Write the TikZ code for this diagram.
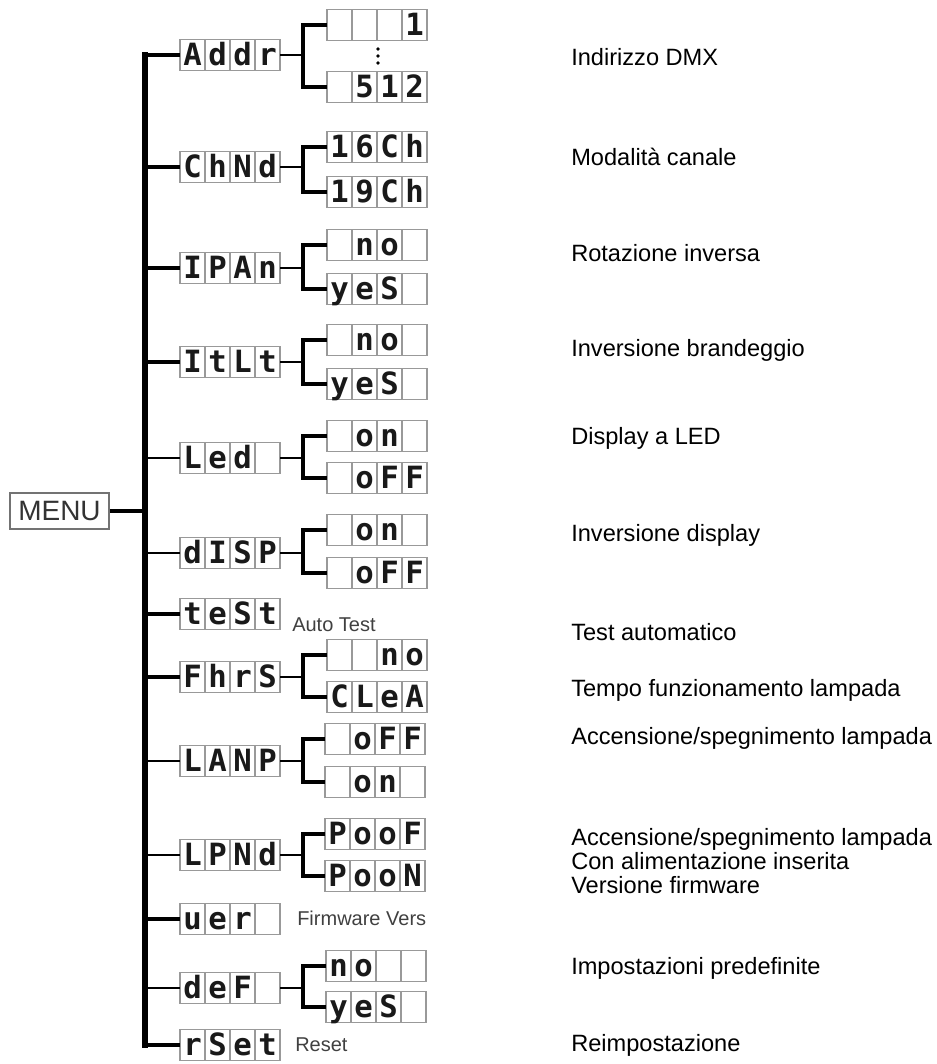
\documentclass[tikz,border=0pt]{standalone}
\usepackage{fontspec}
\setmainfont{Liberation Sans}
\newfontfamily\segfont{DejaVu Sans Mono}
\newcommand\dispbox[7]{%
  \node[dbox] (#1) at (#2,#3) {};
  \foreach \k in {1,2,3}{\draw[cell] (#2+25*\k,#3-15.5) -- (#2+25*\k,#3+15.5);}
  \node[dchar] (#1c1) at (#2+12.5,#3+10.5) {#4};
  \node[dchar] (#1c2) at (#2+37.5,#3+10.5) {#5};
  \node[dchar] (#1c3) at (#2+62.5,#3+10.5) {#6};
  \node[dchar] (#1c4) at (#2+87.5,#3+10.5) {#7};
}
\begin{document}
\begin{tikzpicture}[x=0.75pt,y=-0.75pt,
 dbox/.style={draw=black!40,line width=1pt,minimum width=75pt,minimum height=23.25pt,inner sep=0pt,outer sep=0pt,anchor=west},
 cell/.style={draw=black!40,line width=1pt},
 dchar/.style={font=\segfont\bfseries\fontsize{23}{23}\selectfont,text=black!90,inner sep=0pt,anchor=base},
 trunk/.style={line width=3.8pt,line cap=rect},
 br/.style={line width=2.4pt},
 thinbr/.style={line width=1.5pt},
 lbl/.style={font=\fontsize{17.7}{21}\selectfont,anchor=base west,inner sep=0pt},
 sub/.style={font=\fontsize{15}{18}\selectfont,text=black!75,anchor=base west,inner sep=0pt}]
\useasboundingbox (0,0) rectangle (937,1064);

% MENU
\node[draw=black!55,line width=1.2pt,minimum width=74.25pt,minimum height=27pt,inner sep=0pt,
      font=\fontsize{21}{21}\selectfont,text=black!80] (menu) at (59.5,511) {MENU};

\coordinate (tx) at (145,0);
\coordinate (bx) at (303,0);

% level 1
\dispbox{addr}{180}{55}{A}{d}{d}{r}
\dispbox{chnd}{180}{167}{C}{h}{N}{d}
\dispbox{ipan}{180}{268}{I}{P}{A}{n}
\dispbox{itlt}{180}{362}{I}{t}{L}{t}
\dispbox{led}{180}{458}{L}{e}{d}{}
\dispbox{disp}{180}{553}{d}{I}{S}{P}
\dispbox{test}{180}{614}{t}{e}{S}{t}
\dispbox{fhrs}{180}{677}{F}{h}{r}{S}
\dispbox{lanp}{180}{761}{L}{A}{N}{P}
\dispbox{lpnd}{180}{855}{L}{P}{N}{d}
\dispbox{uer}{180}{919}{u}{e}{r}{}
\dispbox{def}{180}{988}{d}{e}{F}{}
\dispbox{rset}{180}{1045}{r}{S}{e}{t}

% level 2
\dispbox{addra}{327}{25}{}{}{}{1}
\dispbox{addrb}{327}{87}{}{5}{1}{2}
\dispbox{chnda}{327}{147}{1}{6}{C}{h}
\dispbox{chndb}{327}{192}{1}{9}{C}{h}
\dispbox{ipana}{327}{245}{}{n}{o}{}
\dispbox{ipanb}{327}{289}{y}{e}{S}{}
\dispbox{itlta}{327}{340}{}{n}{o}{}
\dispbox{itltb}{327}{384}{y}{e}{S}{}
\dispbox{leda}{327}{436}{}{o}{n}{}
\dispbox{ledb}{327}{478}{}{o}{F}{F}
\dispbox{dispa}{327}{530}{}{o}{n}{}
\dispbox{dispb}{327}{573}{}{o}{F}{F}
\dispbox{fhrsa}{327}{655}{}{}{n}{o}
\dispbox{fhrsb}{327}{697}{C}{L}{e}{A}
\dispbox{lanpa}{325}{739}{}{o}{F}{F}
\dispbox{lanpb}{325}{782}{}{o}{n}{}
\dispbox{lpnda}{325}{834}{P}{o}{o}{F}
\dispbox{lpndb}{325}{876}{P}{o}{o}{N}
\dispbox{defa}{326}{966}{n}{o}{}{}
\dispbox{defb}{326}{1007}{y}{e}{S}{}

% vertical dots
\foreach \yy in {49,56,63} \fill (378,\yy) circle (1.8);

% trunk
\draw[trunk] (addr.west -| tx) -- (rset.west -| tx);
\draw[br] (menu.east) -- (menu.east -| tx);
\foreach \n in {addr,chnd,ipan,itlt,test,fhrs,uer,rset}
  \draw[br] (\n.west) -- (\n.west -| tx);
\foreach \n in {led,disp,lanp,lpnd,def}
  \draw[thinbr] (\n.west) -- (\n.west -| tx);

% brackets
\foreach \n in {addr,chnd,ipan,itlt,led,disp,fhrs,lanp,lpnd,def}{
  \draw[thinbr] (\n.east) -- (\n.east -| bx);
  \draw[br] (\n a.west) -- (\n a.west -| bx) -- (\n b.west -| bx) -- (\n b.west);
}

% small labels
\node[sub] (autotest) at (292,631) {Auto Test};
\begin{scope}
  \clip (285,895) rectangle (441,935);
  \node[sub] (fw) at (297,925) {Firmware Vers};
\end{scope}
\node[sub] (reset) at (295,1051) {Reset};

% right labels
\node[lbl] (l1) at (571,65) {Indirizzo DMX};
\node[lbl] (l2) at (571,165) {Modalità canale};
\node[lbl] (l3) at (571,261) {Rotazione inversa};
\node[lbl] (l4) at (571,356) {Inversione brandeggio};
\node[lbl] (l5) at (571,444) {Display a LED};
\node[lbl] (l6) at (571,541) {Inversione display};
\node[lbl] (l7) at (571,640) {Test automatico};
\node[lbl] (l8) at (571,696) {Tempo funzionamento lampada};
\node[lbl] (l9) at (571,744) {Accensione/spegnimento lampada};
\node[lbl] (l10) at (571,845) {Accensione/spegnimento lampada};
\node[lbl] (l11) at (571,869) {Con alimentazione inserita};
\node[lbl] (l12) at (571,893) {Versione firmware};
\node[lbl] (l13) at (571,974) {Impostazioni predefinite};
\node[lbl] (l14) at (571,1051) {Reimpostazione};
\end{tikzpicture}
\end{document}
